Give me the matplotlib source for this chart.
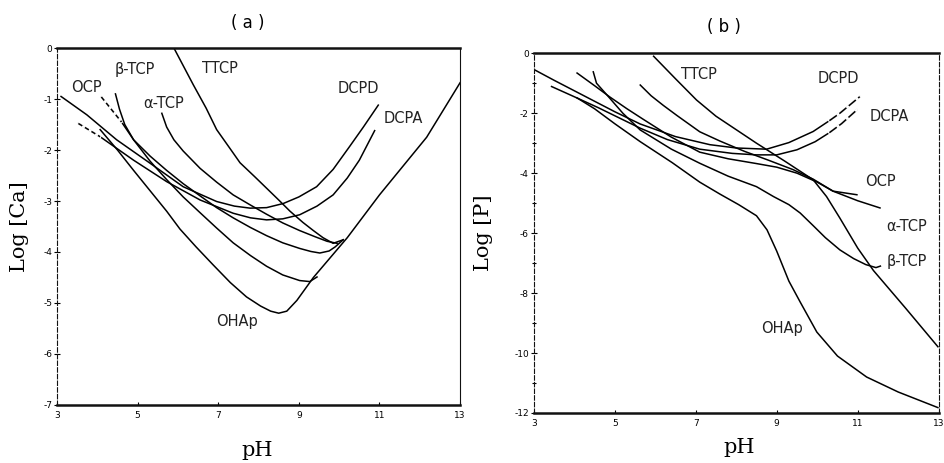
import matplotlib
matplotlib.use("Agg")
import matplotlib.pyplot as plt

plt.rcParams['font.family'] = ['DejaVu Sans']
plt.rcParams['axes.unicode_minus'] = False

# ---- panel (a): log [Ca] vs pH ----
a_dcpd_ph = [3.1, 3.74, 4.48, 5.31, 6.13, 6.96, 7.4, 7.79, 8.2, 8.61, 9.0, 9.44, 9.85, 10.26, 10.6, 10.97]
a_dcpd_y = [-0.95, -1.31, -1.80, -2.26, -2.72, -3.01, -3.1, -3.14, -3.13, -3.05, -2.92, -2.72, -2.38, -1.93, -1.55, -1.12]

a_dcpa_ph = [3.53, 4.07, 4.9, 5.72, 6.55, 7.37, 7.8, 8.2, 8.6, 9.02, 9.45, 9.85, 10.2, 10.5, 10.88]
a_dcpa_y = [-1.48, -1.74, -2.2, -2.62, -2.98, -3.24, -3.33, -3.37, -3.35, -3.27, -3.1, -2.88, -2.55, -2.2, -1.62]

a_ocp_ph = [4.1, 4.6, 4.9, 5.31, 5.72, 6.13, 6.55, 6.96, 7.37, 7.8, 8.2, 8.6, 9.02, 9.3, 9.52, 9.75, 9.9, 10.1]
a_ocp_y = [-0.96, -1.45, -1.8, -2.12, -2.4, -2.66, -2.9, -3.13, -3.33, -3.52, -3.68, -3.82, -3.93, -3.99, -4.02, -3.98, -3.9, -3.76]

a_btcp_ph = [4.45, 4.55, 4.68, 4.9, 5.31, 5.72, 6.13, 6.55, 6.96, 7.37, 7.8, 8.2, 8.6, 9.02, 9.27, 9.45]
a_btcp_y = [-0.9, -1.2, -1.5, -1.8, -2.22, -2.58, -2.92, -3.23, -3.53, -3.82, -4.07, -4.28, -4.45, -4.56, -4.58, -4.49]

a_atcp_ph = [5.6, 5.72, 5.9, 6.13, 6.55, 6.96, 7.37, 7.8, 8.2, 8.6, 9.02, 9.4, 9.7, 9.95]
a_atcp_y = [-1.28, -1.55, -1.8, -2.02, -2.36, -2.63, -2.88, -3.08, -3.26, -3.43, -3.58, -3.7, -3.79, -3.83]

a_ttcp_ph = [5.9, 6.1, 6.38, 6.7, 6.96, 7.3, 7.54, 7.9, 8.2, 8.5, 8.78, 9.1, 9.36, 9.6, 9.85, 10.1]
a_ttcp_y = [0.0, -0.3, -0.72, -1.18, -1.6, -1.98, -2.25, -2.52, -2.75, -2.98, -3.2, -3.42, -3.58, -3.72, -3.83, -3.76]

a_ohap_ph = [4.07, 4.5, 4.9, 5.31, 5.72, 6.05, 6.45, 6.87, 7.3, 7.7, 8.05, 8.3, 8.5, 8.7, 8.95, 9.36, 10.2, 11.0, 12.17, 13.0]
a_ohap_y = [-1.6, -2.0, -2.4, -2.8, -3.2, -3.55, -3.9, -4.25, -4.6, -4.88, -5.06, -5.16, -5.2, -5.16, -4.95, -4.5, -3.72, -2.88, -1.75, -0.68]

# ---- panel (b): log [P] vs pH ----
b_dcpd_ph = [3.03, 3.5, 4.0, 4.5, 5.0, 5.63, 6.5, 7.35, 8.0, 8.75, 9.3, 9.9, 10.3, 10.56, 11.05]
b_dcpd_y = [-0.56, -0.9, -1.25, -1.6, -1.95, -2.36, -2.78, -3.05, -3.16, -3.2, -2.98, -2.61, -2.25, -2.0, -1.45]

b_dcpa_ph = [3.44, 4.0, 4.6, 5.1, 5.63, 6.3, 7.1, 7.9, 8.5, 9.0, 9.5, 9.95, 10.3, 10.6, 10.98]
b_dcpa_y = [-1.11, -1.45, -1.82, -2.15, -2.5, -2.88, -3.2, -3.34, -3.39, -3.39, -3.22, -2.95, -2.65, -2.35, -1.89]

b_ocp_ph = [4.07, 4.5, 4.88, 5.3, 5.7, 6.4, 7.1, 7.8, 8.5, 9.0, 9.5, 10.0, 10.39, 10.98]
b_ocp_y = [-0.66, -1.08, -1.46, -1.85, -2.2, -2.8, -3.3, -3.52, -3.68, -3.8, -4.0, -4.3, -4.6, -4.72]

b_atcp_ph = [5.63, 5.9, 6.2, 6.54, 7.1, 7.6, 8.2, 8.8, 9.4, 9.9, 10.39, 11.0, 11.55]
b_atcp_y = [-1.06, -1.42, -1.74, -2.08, -2.62, -2.93, -3.27, -3.57, -3.88, -4.2, -4.6, -4.92, -5.16]

b_btcp_ph = [4.47, 4.55, 4.8, 5.2, 5.63, 6.4, 7.1, 7.8, 8.5, 8.92, 9.3, 9.58, 9.9, 10.2, 10.56, 10.9, 11.2, 11.45, 11.56]
b_btcp_y = [-0.62, -1.0, -1.38, -2.0, -2.56, -3.2, -3.67, -4.1, -4.45, -4.78, -5.05, -5.33, -5.75, -6.15, -6.56, -6.85, -7.05, -7.15, -7.1]

b_ttcp_ph = [5.96, 6.5, 7.02, 7.5, 8.0, 8.5, 9.2, 9.9, 10.23, 10.56, 11.0, 11.39, 12.18, 12.98]
b_ttcp_y = [-0.1, -0.85, -1.56, -2.1, -2.55, -3.0, -3.6, -4.22, -4.78, -5.5, -6.5, -7.25, -8.5, -9.79]

b_ohap_ph = [4.07, 4.5, 5.0, 5.63, 6.42, 7.1, 7.6, 8.06, 8.5, 8.76, 9.0, 9.3, 9.58, 9.99, 10.5, 11.22, 12.0, 12.98]
b_ohap_y = [-1.49, -1.85, -2.35, -2.95, -3.65, -4.3, -4.7, -5.05, -5.42, -5.89, -6.6, -7.6, -8.3, -9.3, -10.1, -10.8, -11.3, -11.82]

x_ticks = [3, 5, 7, 9, 11, 13]
a_yticks = [0, -1, -2, -3, -4, -5, -6, -7]
b_yticks = [0, -2, -4, -6, -8, -10, -12]
b_yminor = [-1, -3, -5, -7, -9, -11]

a_labels = [("OCP", 3.74, -0.78), ("β-TCP", 4.94, -0.43), ("TTCP", 7.04, -0.4),
            ("α-TCP", 5.64, -1.08), ("DCPD", 10.47, -0.79), ("DCPA", 11.59, -1.38),
            ("OHAp", 7.46, -5.37)]
b_labels = [("TTCP", 7.07, -0.72), ("DCPD", 10.53, -0.83), ("DCPA", 11.77, -2.11),
            ("OCP", 11.56, -4.28), ("α-TCP", 12.2, -5.78), ("β-TCP", 12.2, -6.94),
            ("OHAp", 9.13, -9.17)]

LW = 1.1
fig = plt.figure(figsize=(9.44, 4.63), dpi=100)
ax_a = fig.add_axes([0.0604, 0.1253, 0.427, 0.771])
ax_b = fig.add_axes([0.5654, 0.108, 0.429, 0.777])


def draw(ax, ph, y, dash_first=0, dash_from=None):
    ax.plot(ph, y, color='black', lw=LW)
    if dash_first:
        ax.plot(ph[:dash_first + 1], y[:dash_first + 1], color='white', lw=LW + 0.6)
        ax.plot(ph[:dash_first + 1], y[:dash_first + 1], color='black', lw=LW, ls=(0, (3, 2)))
    if dash_from is not None:
        ax.plot(ph[dash_from:], y[dash_from:], color='white', lw=LW + 0.6)
        ax.plot(ph[dash_from:], y[dash_from:], color='black', lw=LW, ls=(0, (6, 2)))


draw(ax_a, a_dcpd_ph, a_dcpd_y)
draw(ax_a, a_dcpa_ph, a_dcpa_y, dash_first=1)
draw(ax_a, a_ocp_ph, a_ocp_y, dash_first=1)
draw(ax_a, a_btcp_ph, a_btcp_y)
draw(ax_a, a_atcp_ph, a_atcp_y)
draw(ax_a, a_ttcp_ph, a_ttcp_y)
draw(ax_a, a_ohap_ph, a_ohap_y)

draw(ax_b, b_dcpd_ph, b_dcpd_y, dash_from=12)
draw(ax_b, b_dcpa_ph, b_dcpa_y, dash_from=12)
draw(ax_b, b_ocp_ph, b_ocp_y)
draw(ax_b, b_atcp_ph, b_atcp_y)
draw(ax_b, b_btcp_ph, b_btcp_y)
draw(ax_b, b_ttcp_ph, b_ttcp_y)
draw(ax_b, b_ohap_ph, b_ohap_y)

for ax, labels in ((ax_a, a_labels), (ax_b, b_labels)):
    for txt, xx, yy in labels:
        ax.text(xx, yy, txt, fontsize=10.5, ha='center', va='center', color='#222222',
                clip_on=False)

ax_a.set_xlim(3, 13)
ax_a.set_ylim(-7, 0)
ax_b.set_xlim(3, 13)
ax_b.set_ylim(-12, 0)

for ax in (ax_a, ax_b):
    ax.set_xticks(x_ticks)
    ax.spines['top'].set_linewidth(1.8)
    ax.spines['bottom'].set_linewidth(1.8)
    ax.spines['left'].set_linewidth(0.8)
    ax.spines['left'].set_linestyle((0, (4, 2)))
    ax.spines['right'].set_linewidth(0.8)
    ax.tick_params(axis='x', direction='in', length=2, width=0.8, labelsize=6.5, pad=4)
    ax.tick_params(axis='y', direction='inout', length=5, width=0.8, labelsize=6.5, pad=1)
    for s in ax.spines.values():
        s.set_color('#111111')

ax_b.spines['right'].set_linestyle((0, (4, 2)))
ax_a.set_yticks(a_yticks)
ax_b.set_yticks(b_yticks)
ax_b.set_yticks(b_yminor, minor=True)
ax_b.tick_params(axis='y', which='minor', direction='inout', length=3, width=0.8)

serif = ['DejaVu Serif']
ax_a.set_xlabel("pH", fontsize=15, family=serif)
ax_a.xaxis.set_label_coords(0.496, -0.1)
ax_a.set_ylabel("Log [Ca]", fontsize=15, family=serif)
ax_a.yaxis.set_label_coords(-0.07, 0.5)
ax_a.text(0.474, 1.07, "( a )", transform=ax_a.transAxes, ha='center', va='center', fontsize=12)

ax_b.set_xlabel("pH", fontsize=15, family=serif)
ax_b.xaxis.set_label_coords(0.507, -0.07)
ax_b.set_ylabel("Log [P]", fontsize=15, family=serif)
ax_b.yaxis.set_label_coords(-0.1, 0.5)
ax_b.text(0.47, 1.072, "( b )", transform=ax_b.transAxes, ha='center', va='center', fontsize=12)

fig.savefig("out.png", dpi=100)
